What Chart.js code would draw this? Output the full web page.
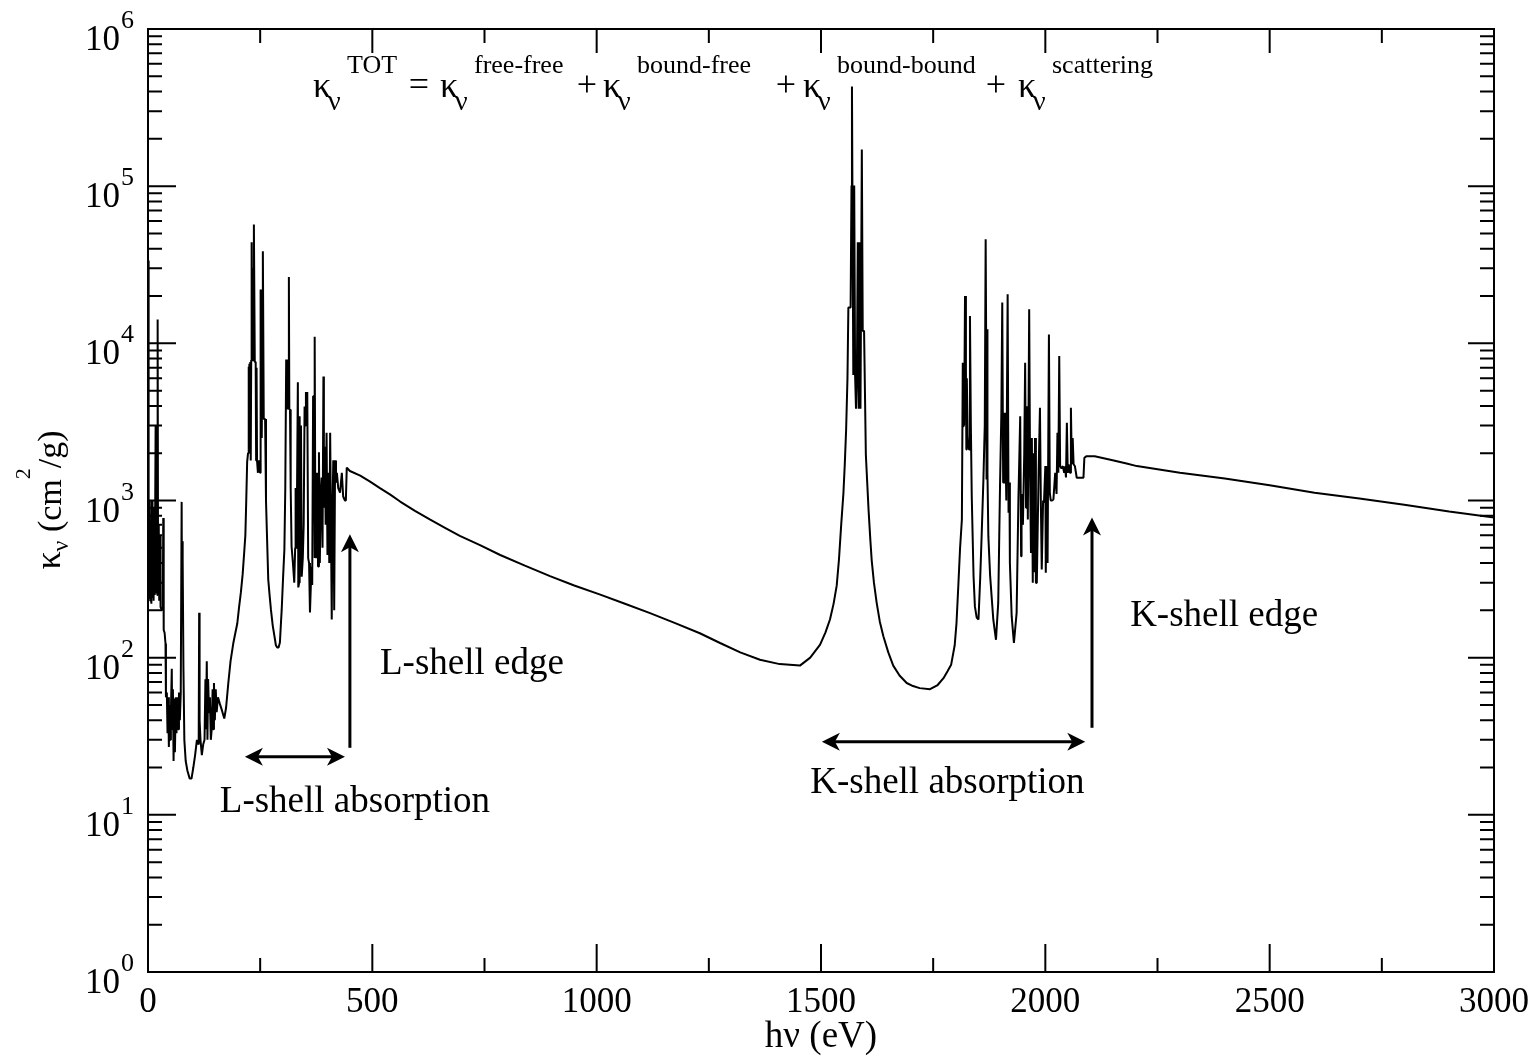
<!DOCTYPE html>
<html>
<head>
<meta charset="utf-8">
<title>Opacity spectrum</title>
<script src="https://cdn.jsdelivr.net/npm/chart.js@4.4.1/dist/chart.umd.min.js"></script>
<style>
  html, body { margin: 0; padding: 0; background: #fff; }
  #wrap { width: 1540px; height: 1060px; }
</style>
</head>
<body>
<div id="wrap"><canvas id="opacityChart" width="1540" height="1060"></canvas></div>
<script>
// photon energy (eV) / total opacity (cm^2/g) pairs, split by spectral region
var lowBand = [
  [0, 300], [0.8, 33600], [1.4, 300], [2, 950], [2.8, 240], [4, 1000], [5, 230], [6.5, 700], [7.5, 220],
  [9, 1000], [10, 240], [11.5, 800], [12.5, 230], [14, 900], [15, 250], [17, 3000], [18, 260],
  [20, 900], [20.8, 250], [21.5, 14200], [22.5, 260], [24, 700], [25, 230], [27, 600], [28, 210],
  [31, 200], [33, 209], [34, 775], [35, 150], [37, 144], [39, 123], [40, 56], [42, 60],
  [43.5, 33], [45, 56], [46.5, 27], [48, 50], [49.5, 30], [51, 45], [53, 85], [54, 35],
  [55.5, 63], [57, 22], [58.5, 55], [60, 25], [62, 56], [63.5, 33], [65, 56], [67, 35],
  [69, 60], [71, 40], [73, 60], [75, 980], [75.8, 180], [76.5, 550], [77.3, 200], [78, 420],
  [79, 85], [81, 30], [84, 22], [88, 19], [93, 17], [97, 17], [101, 20], [105, 24],
  [109, 30], [113, 28], [114, 193], [115, 40], [117, 30], [120, 24], [123, 28], [126, 30],
  [128, 73], [129, 35], [131, 95], [132.5, 30], [134, 73], [136, 45], [138, 56], [140, 30],
  [142, 35], [144, 63], [145.5, 35], [147, 69], [149, 40], [151, 63], [153, 45], [156, 56],
  [160, 51], [165, 46], [170, 41], [174, 48], [179, 69], [184, 95], [190, 123], [195, 145],
  [199, 165], [203, 210], [207, 260], [211, 340], [214, 450], [217, 600], [219, 1000]
];

var lShellBand = [
  [221, 1760], [223, 2000], [224, 7100], [225, 5300], [226, 7400], [227, 5600], [228, 7600], [229, 1800],
  [230, 7800], [231, 44000], [232, 7800], [233, 30000], [234, 8000], [235, 7800], [236, 57000], [238, 7600],
  [240, 7600], [241, 1800], [242, 7000], [243, 1800], [245, 1500], [246, 1800], [247, 1500], [248, 1800],
  [250, 1500], [251, 22000], [252, 4700], [253, 22000], [254, 2500], [255, 10000], [256, 38600], [258, 3300],
  [261, 3300], [263, 1000], [265, 626], [268, 315], [271, 250], [274, 202], [278, 160], [282, 136],
  [285, 120], [288, 116], [291, 116], [294, 125], [296, 160], [298, 202], [301, 320], [304, 490],
  [306, 1200], [308, 7900], [309, 4000], [310, 7900], [311, 3800], [313, 5000], [314, 26400], [315, 3800],
  [316.5, 3800], [318, 1200], [320, 510], [323, 400], [326, 300], [328, 500], [329, 1200], [330, 500],
  [332, 1000], [334, 5650], [335, 280], [337, 300], [338, 3430], [339, 500], [341, 3000], [342.6, 327],
  [345, 430], [347, 700], [349, 3960], [350, 3000], [352, 4900], [353, 4000], [355, 4900], [357, 430],
  [359, 400], [361, 194], [363, 290], [365, 380], [366, 290], [368, 4600], [370, 4600], [371, 430],
  [372, 11000], [373, 700], [375, 430], [377, 1500], [379, 380], [381, 2030], [383, 400], [385, 1100],
  [387, 1400], [389, 500], [391, 6150], [392, 900], [394, 2200], [396, 700], [398, 2700], [400, 450],
  [402, 1500], [404, 400], [406, 2700], [408, 600], [409.5, 175], [411, 800], [413, 1800], [415, 200],
  [417, 1800], [419, 1300], [421, 1500], [424, 1200], [428, 1120], [432, 1500], [435, 1060], [439, 1000],
  [441, 1000], [443, 1620]
];

var lContinuum = [
  [450, 1540], [473, 1440], [495, 1320], [517, 1200], [540, 1090], [562, 985], [595, 860], [629, 755],
  [662, 670], [695, 595], [740, 520], [785, 450], [840, 385], [896, 330], [950, 288], [1008, 252],
  [1060, 222], [1119, 192], [1175, 166], [1230, 143], [1275, 124], [1320, 108], [1364, 97], [1408, 91],
  [1453, 89]
];

var kAlphaLine = [
  [1476, 100], [1498, 121], [1510, 145], [1520, 175], [1528, 220], [1535, 287], [1540, 420], [1545, 700],
  [1550, 1117], [1553, 1700], [1556, 2820], [1559, 6000], [1561, 16900], [1566, 16900], [1568, 101000], [1569, 431000],
  [1570, 101000], [1572, 6280], [1574, 101000], [1576, 6300], [1578, 3840], [1580, 6280], [1582, 44000], [1584, 3840],
  [1586, 44000], [1588, 3840], [1591, 171000], [1593, 12000], [1596, 12000], [1600, 1946], [1603, 1300], [1606, 872],
  [1610, 560], [1613, 416], [1618, 300], [1624, 224], [1631, 170], [1639, 137], [1650, 108], [1661, 89],
  [1675, 77], [1691, 69], [1705, 66], [1720, 64], [1743, 63], [1760, 67], [1773, 74], [1782, 82],
  [1790, 90]
];

var kShellBand = [
  [1798, 120], [1802, 166], [1806, 285], [1810, 500], [1814, 757], [1816, 7530], [1817, 2970], [1818, 7000],
  [1819, 3000], [1821, 20000], [1823, 6830], [1824, 2110], [1825, 6000], [1827, 2500], [1830, 2110], [1832, 14900],
  [1834, 3000], [1836, 1065], [1840, 330], [1843, 212], [1847, 180], [1851, 175], [1855, 330], [1858, 593],
  [1862, 1360], [1865, 3000], [1867, 45900], [1868, 12300], [1869, 1360], [1870, 12300], [1871, 1500], [1873, 593],
  [1877, 330], [1884, 175], [1890, 130], [1895, 223], [1899, 1233], [1902, 3620], [1904, 18200], [1906, 1300],
  [1907, 3620], [1909, 1300], [1910, 3620], [1913, 1000], [1916, 20500], [1918, 835], [1920, 1300], [1921, 400],
  [1925, 183], [1930, 124], [1936, 193], [1940, 1015], [1944, 3440], [1946, 442], [1947, 1100], [1950, 700],
  [1953, 2000], [1955, 7530], [1957, 900], [1959, 3980], [1961, 757], [1964, 16500], [1966, 1500], [1968, 464],
  [1970, 2500], [1972, 300], [1973, 2000], [1975, 350], [1977, 2500], [1979, 300], [1981, 299], [1985, 1500],
  [1988, 3890], [1990, 966], [1992, 364], [1995, 1000], [1997, 966], [2000, 1655], [2001, 347], [2003, 1655],
  [2005, 400], [2008, 11400], [2010, 1120], [2012, 1000], [2015, 1000], [2018, 1015], [2022, 1500], [2025, 1100],
  [2027, 2700], [2029, 1500], [2031, 8300], [2033, 1650], [2036, 1600], [2039, 1655], [2042, 1500], [2044, 1650],
  [2046, 1400], [2048, 3120], [2050, 1500], [2052, 1700], [2055, 1500], [2057, 3890], [2059, 1700], [2061, 2500],
  [2063, 1700], [2066, 1650], [2070, 1395], [2085, 1395], [2087, 1870], [2092, 1915]
];

var kContinuum = [
  [2110, 1915], [2150, 1806], [2181, 1720], [2204, 1655], [2300, 1500], [2400, 1380], [2500, 1250], [2600, 1120],
  [2700, 1030], [2800, 940], [2900, 850], [3000, 780]
];

// axis ticks
var xMajor = [0, 500, 1000, 1500, 2000, 2500, 3000];
var xMinor = [250, 750, 1250, 1750, 2250, 2750];
var yDecades = [0, 1, 2, 3, 4, 5, 6];

var spectrum = [].concat(lowBand, lShellBand, lContinuum, kAlphaLine, kShellBand, kContinuum)
  .map(function (p) { return {x: p[0], y: p[1]}; });

var SERIF = '"Liberation Serif", "Times New Roman", serif';

function arrowHead(ctx, tx, ty, dx, dy) {
  var len = 18, half = 9, notch = 5;
  var nx = -dy, ny = dx;
  ctx.beginPath();
  ctx.moveTo(tx, ty);
  ctx.lineTo(tx - dx * len + nx * half, ty - dy * len + ny * half);
  ctx.lineTo(tx - dx * (len - notch), ty - dy * (len - notch));
  ctx.lineTo(tx - dx * len - nx * half, ty - dy * len - ny * half);
  ctx.closePath();
  ctx.fill();
}

function drawKappa(ctx, xk, sup) {
  ctx.textAlign = 'left';
  ctx.font = '36px ' + SERIF;
  ctx.fillText('κ', xk, 97);
  ctx.font = '28px ' + SERIF;
  ctx.fillText('ν', xk + 15, 110);
  ctx.font = '26px ' + SERIF;
  ctx.fillText(sup, xk + 34, 73);
}

var frameAndText = {
  id: 'frameAndText',
  afterDraw: function (chart) {
    var ctx = chart.ctx, a = chart.chartArea, x = chart.scales.x, y = chart.scales.y;
    ctx.save();
    ctx.strokeStyle = '#000';
    ctx.fillStyle = '#000';
    ctx.lineWidth = 2;
    ctx.strokeRect(a.left, a.top, a.right - a.left, a.bottom - a.top);

    // inward ticks on all four sides
    ctx.beginPath();
    xMajor.forEach(function (v) {
      var px = x.getPixelForValue(v);
      ctx.moveTo(px, a.bottom); ctx.lineTo(px, a.bottom - 28);
      ctx.moveTo(px, a.top); ctx.lineTo(px, a.top + 24);
    });
    xMinor.forEach(function (v) {
      var px = x.getPixelForValue(v);
      ctx.moveTo(px, a.bottom); ctx.lineTo(px, a.bottom - 14);
      ctx.moveTo(px, a.top); ctx.lineTo(px, a.top + 14);
    });
    yDecades.forEach(function (k) {
      var py = y.getPixelForValue(Math.pow(10, k));
      ctx.moveTo(a.left, py); ctx.lineTo(a.left + 28, py);
      ctx.moveTo(a.right, py); ctx.lineTo(a.right - 26, py);
      if (k < 6) {
        for (var m = 2; m <= 9; m++) {
          var pm = y.getPixelForValue(m * Math.pow(10, k));
          ctx.moveTo(a.left, pm); ctx.lineTo(a.left + 14, pm);
          ctx.moveTo(a.right, pm); ctx.lineTo(a.right - 14, pm);
        }
      }
    });
    ctx.stroke();

    // tick labels
    ctx.font = '35px ' + SERIF;
    ctx.textAlign = 'center';
    ctx.textBaseline = 'alphabetic';
    xMajor.forEach(function (v) {
      ctx.fillText(String(v), x.getPixelForValue(v), a.bottom + 40);
    });
    yDecades.forEach(function (k) {
      var py = y.getPixelForValue(Math.pow(10, k));
      ctx.font = '35px ' + SERIF;
      ctx.textAlign = 'right';
      ctx.fillText('10', a.left - 28, py + 21);
      ctx.font = '26px ' + SERIF;
      ctx.textAlign = 'left';
      ctx.fillText(String(k), a.left - 27, py - 1);
    });

    // axis titles
    ctx.font = '37px ' + SERIF;
    ctx.textAlign = 'center';
    ctx.fillText('hν (eV)', (a.left + a.right) / 2, 1047);

    ctx.save();
    ctx.translate(61, 500);
    ctx.rotate(-Math.PI / 2);
    var parts = [
      {t: 'κ', f: 36, dy: -1}, {t: 'ν', f: 24, dy: 7}, {t: ' (cm', f: 34, dy: 0},
      {t: '2', f: 22, dy: -31}, {t: '/g)', f: 34, dy: 0}
    ];
    var total = 0;
    parts.forEach(function (p) { ctx.font = p.f + 'px ' + SERIF; p.w = ctx.measureText(p.t).width; total += p.w; });
    var cx = -total / 2;
    ctx.textAlign = 'left';
    parts.forEach(function (p) {
      ctx.font = p.f + 'px ' + SERIF;
      ctx.fillText(p.t, cx, p.dy);
      cx += p.w;
    });
    ctx.restore();

    // opacity decomposition
    drawKappa(ctx, 313, 'TOT');
    drawKappa(ctx, 440, 'free-free');
    drawKappa(ctx, 603, 'bound-free');
    drawKappa(ctx, 803, 'bound-bound');
    drawKappa(ctx, 1018, 'scattering');
    ctx.font = '36px ' + SERIF;
    ctx.textAlign = 'center';
    ctx.fillText('=', 419, 96);
    ctx.fillText('+', 587, 96);
    ctx.fillText('+', 786, 96);
    ctx.fillText('+', 996, 96);

    // shell annotations, placed in data coordinates
    ctx.font = '37px ' + SERIF;
    ctx.textAlign = 'left';
    ctx.fillText('L-shell edge', x.getPixelForValue(517), y.getPixelForValue(79));
    ctx.fillText('L-shell absorption', x.getPixelForValue(160), y.getPixelForValue(10.45));
    ctx.fillText('K-shell absorption', x.getPixelForValue(1476), y.getPixelForValue(13.8));
    ctx.fillText('K-shell edge', x.getPixelForValue(2189), y.getPixelForValue(160));

    ctx.lineWidth = 3;
    function hArrow(e0, e1, k) {
      var x0 = x.getPixelForValue(e0), x1 = x.getPixelForValue(e1), py = y.getPixelForValue(k);
      ctx.beginPath(); ctx.moveTo(x0 + 10, py); ctx.lineTo(x1 - 10, py); ctx.stroke();
      arrowHead(ctx, x0, py, -1, 0);
      arrowHead(ctx, x1, py, 1, 0);
    }
    function vArrow(e, k0, k1) {
      var px = x.getPixelForValue(e), y0 = y.getPixelForValue(k0), y1 = y.getPixelForValue(k1);
      ctx.beginPath(); ctx.moveTo(px, y0); ctx.lineTo(px, y1 + 10); ctx.stroke();
      arrowHead(ctx, px, y1, 0, -1);
    }
    hArrow(216, 439, 23.4);
    vArrow(450, 26.7, 610);
    hArrow(1502, 2089, 29.2);
    vArrow(2104, 35.8, 780);

    ctx.restore();
  }
};

var ctx2 = document.getElementById('opacityChart');
var opacityChart = new Chart(ctx2, {
  type: 'scatter',
  data: {
    datasets: [{
      label: 'kappa',
      data: spectrum,
      showLine: true,
      borderColor: '#000',
      borderWidth: 2,
      borderJoinStyle: 'bevel',
      pointRadius: 0,
      tension: 0,
      fill: false
    }]
  },
  options: {
    responsive: false,
    animation: false,
    events: [],
    layout: { padding: { left: 148, top: 29, right: 46, bottom: 88 } },
    scales: {
      x: { type: 'linear', min: 0, max: 3000, display: false },
      y: { type: 'logarithmic', min: 1, max: 1000000, display: false }
    },
    plugins: { legend: { display: false }, tooltip: { enabled: false } }
  },
  plugins: [frameAndText]
});
</script>
</body>
</html>
